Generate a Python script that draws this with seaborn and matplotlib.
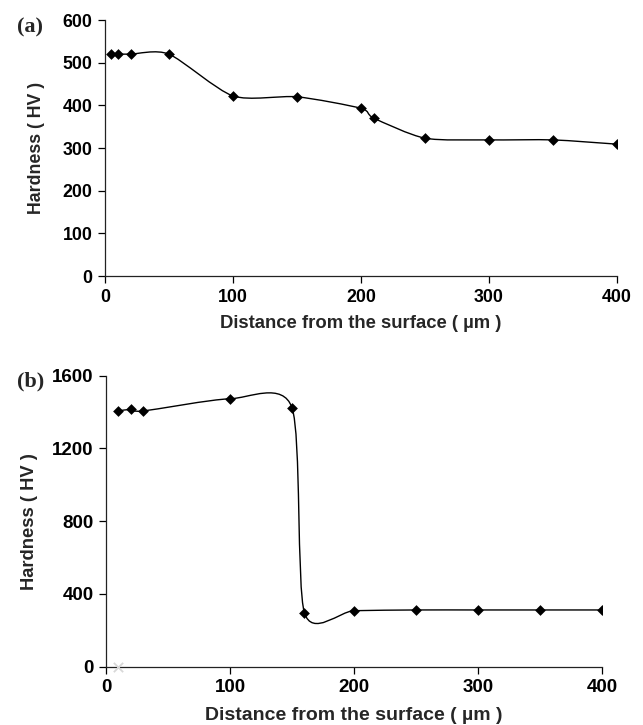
import numpy as np
import seaborn as sns
import matplotlib.pyplot as plt
from matplotlib.path import Path
from matplotlib.patches import PathPatch

# panel (a)
dist_a = [5, 10, 20, 50, 100, 150, 200, 210, 250, 300, 350, 400]
hard_a = [520, 520, 520, 520, 422, 420, 393, 370, 323, 319, 319, 309]

# panel (b)
dist_b = [10, 20, 30, 100, 150, 160, 200, 250, 300, 350, 400]
hard_b = [1406, 1415, 1406, 1473, 1424, 297, 308, 312, 312, 312, 312]
extra_b_x = [10]
extra_b_y = [0]

xticks = [0, 100, 200, 300, 400]
yticks_a = [0, 100, 200, 300, 400, 500, 600]
yticks_b = [0, 400, 800, 1200, 1600]

sns.set_style("ticks")
plt.rcParams['font.family'] = ['Liberation Sans', 'DejaVu Sans']
plt.rcParams['font.weight'] = 'bold'


def smooth_line(ax, xs, ys, f=1 / 8):
    # excel-style smoothed line (bezier through the points)
    pts = np.column_stack([xs, ys]).astype(float)
    verts = [pts[0]]
    codes = [Path.MOVETO]
    n = len(pts)
    for i in range(n - 1):
        p0 = pts[i - 1] if i > 0 else pts[i]
        p1 = pts[i]
        p2 = pts[i + 1]
        p3 = pts[i + 2] if i + 2 < n else p2
        verts += [p1 + (p2 - p0) * f, p2 - (p3 - p1) * f, p2]
        codes += [Path.CURVE4] * 3
    ax.add_patch(PathPatch(Path(verts, codes), facecolor='none',
                           edgecolor='black', lw=1.0, zorder=2))


def style_axes(ax, yticks, tick_fs, xlab_fs, ylab_fs):
    ax.set_xlim(0, 400)
    ax.set_ylim(yticks[0], yticks[-1])
    ax.set_xticks(xticks)
    ax.set_yticks(yticks)
    sns.despine(ax=ax)
    for s in ['left', 'bottom']:
        ax.spines[s].set_linewidth(0.9)
        ax.spines[s].set_color('#222222')
    ax.tick_params(direction='out', length=5, width=0.9, labelsize=tick_fs,
                   colors='black', pad=4)
    for lab in ax.get_xticklabels() + ax.get_yticklabels():
        lab.set_fontweight('bold')
    ax.set_xlabel('Distance from the surface ( µm )', fontsize=xlab_fs,
                  fontweight='bold')
    ax.set_ylabel('Hardness ( HV )', fontsize=ylab_fs, fontweight='bold')


fig = plt.figure(figsize=(6.43, 7.25), dpi=100)
ax1 = fig.add_axes([0.1633, 0.6193, 0.7963, 0.3531])
ax2 = fig.add_axes([0.1649, 0.0804, 0.7713, 0.4014])

smooth_line(ax1, dist_a, hard_a)
sns.scatterplot(x=dist_a, y=hard_a, ax=ax1, marker='D', s=30,
                color='black', edgecolor='black', linewidth=0, zorder=3)
style_axes(ax1, yticks_a, 12.8, 13.3, 12.8)
ax1.yaxis.set_label_coords(-0.117, 0.5)
ax1.xaxis.set_label_coords(0.5, -0.152)

smooth_line(ax2, dist_b, hard_b)
sns.scatterplot(x=dist_b, y=hard_b, ax=ax2, marker='D', s=30,
                color='black', edgecolor='black', linewidth=0, zorder=3)
sns.scatterplot(x=extra_b_x, y=extra_b_y, ax=ax2, marker='x', s=45,
                color='#d8d8d8', linewidth=1.3, zorder=3, clip_on=False)
style_axes(ax2, yticks_b, 13.5, 14, 13.2)
ax2.yaxis.set_label_coords(-0.137, 0.5)
ax2.xaxis.set_label_coords(0.5, -0.137)

fig.text(0.027, 0.976, '(a)', fontsize=16, fontweight='bold',
         family='Liberation Serif', va='top')
fig.text(0.027, 0.487, '(b)', fontsize=16, fontweight='bold',
         family='Liberation Serif', va='top')

fig.savefig('out.png', dpi=100)
